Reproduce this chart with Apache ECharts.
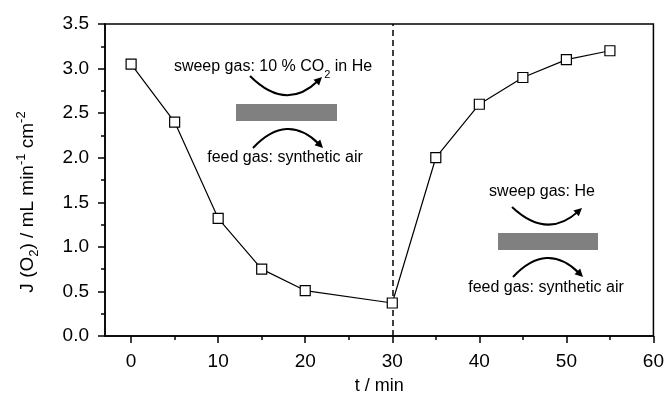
<!DOCTYPE html>
<html>
<head>
<meta charset="utf-8">
<script src="https://cdn.jsdelivr.net/npm/echarts@6/dist/echarts.min.js"></script>
<style>
html, body { margin: 0; padding: 0; background: #fff; }
#chart { width: 667px; height: 404px; }
</style>
</head>
<body>
<div id="chart"></div>
<script>
// data
const times = [0, 5, 10, 15, 20, 30, 35, 40, 45, 50, 55];
const flux = [3.05, 2.40, 1.32, 0.75, 0.51, 0.37, 2.00, 2.60, 2.90, 3.10, 3.20];
const switchTime = 30;
const xMajorTicks = [0, 10, 20, 30, 40, 50, 60];
const xMinorTicks = [5, 15, 25, 35, 45, 55];

const font = '"Liberation Sans", Arial, sans-serif';

// arrowhead polygon at (tx, ty) pointing along (dx, dy)
function arrowHead(tx, ty, dx, dy, len, half) {
    const n = Math.sqrt(dx * dx + dy * dy);
    const ux = dx / n, uy = dy / n;
    const bx = tx - ux * len, by = ty - uy * len;
    return [[tx, ty], [bx - uy * half, by + ux * half], [bx + uy * half, by - ux * half]];
}

// a curved arrow from (x1,y1) to (x2,y2) through control (cx,cy)
function curvedArrow(x1, y1, x2, y2, cx, cy) {
    const dx = x2 - cx, dy = y2 - cy;
    const n = Math.sqrt(dx * dx + dy * dy);
    return [
        {
            type: 'bezierCurve',
            shape: { x1: x1, y1: y1, x2: x2 - dx / n * 5, y2: y2 - dy / n * 5, cpx1: cx, cpy1: cy },
            style: { stroke: '#000', lineWidth: 2, fill: null }
        },
        {
            type: 'polygon',
            shape: { points: arrowHead(x2, y2, dx, dy, 8, 4) },
            style: { fill: '#000' }
        }
    ];
}

function label(x, y, text) {
    return {
        type: 'text',
        x: x,
        y: y,
        style: {
            text: text,
            font: '16px ' + font,
            fill: '#000',
            align: 'center',
            verticalAlign: 'middle',
            rich: {
                t: { fontSize: 16, fontFamily: font, lineHeight: 20 },
                sub: { fontSize: 11, fontFamily: font, verticalAlign: 'bottom', lineHeight: 20, padding: [0, 0, -3, 0] }
            }
        }
    };
}

let chart = echarts.init(document.getElementById('chart'));

let graphics = [].concat(
    // left panel: CO2 sweep
    [label(273, 67, '{t|sweep gas: 10 % CO}{sub|2}{t| in He}')],
    curvedArrow(250, 76, 322, 77, 286, 112),
    [{ type: 'rect', shape: { x: 236, y: 104, width: 101, height: 17 }, style: { fill: '#808080' } }],
    curvedArrow(253, 148, 323, 148, 287, 112),
    [label(285, 158, 'feed gas: synthetic air')],
    // right panel: He sweep
    [label(542, 192, 'sweep gas: He')],
    curvedArrow(512, 207, 582, 208, 547, 240),
    [{ type: 'rect', shape: { x: 498, y: 233, width: 100, height: 17 }, style: { fill: '#808080' } }],
    curvedArrow(513, 277, 583, 277, 547, 241),
    [label(546, 288, 'feed gas: synthetic air')]
);

let option = {
    backgroundColor: '#fff',
    animation: false,
    textStyle: { fontFamily: font },
    grid: {
        left: 105,
        right: 12,
        top: 24,
        bottom: 68,
        show: true,
        borderColor: '#000',
        borderWidth: 1.5,
        containLabel: false
    },
    xAxis: [
        {
            type: 'value',
            min: -3,
            max: 60,
            name: 't / min',
            nameLocation: 'middle',
            nameGap: 41,
            nameTextStyle: { fontSize: 18, color: '#000', fontFamily: font },
            axisLine: { show: true, onZero: false, lineStyle: { color: '#000', width: 1.5 } },
            axisTick: { show: true, length: 7, customValues: xMajorTicks, lineStyle: { color: '#000', width: 1.5 } },
            axisLabel: { customValues: xMajorTicks, color: '#000', fontSize: 19, margin: 16, fontFamily: font },
            splitLine: { show: false }
        },
        {
            type: 'value',
            min: -3,
            max: 60,
            position: 'bottom',
            axisLine: { show: false },
            axisTick: { show: true, length: 4, customValues: xMinorTicks, lineStyle: { color: '#000', width: 1.5 } },
            axisLabel: { show: false, customValues: xMinorTicks },
            splitLine: { show: false }
        }
    ],
    yAxis: {
        type: 'value',
        min: 0,
        max: 3.5,
        interval: 0.5,
        name: '{t|J (O}{sub|2}{t|) / mL min}{sup|-1}{t| cm}{sup|-2}',
        nameLocation: 'middle',
        nameRotate: 90,
        nameGap: 64,
        nameTextStyle: {
            color: '#000',
            padding: [0, 44, 0, 0],
            rich: {
                t: { fontSize: 19, fontFamily: font, color: '#000', lineHeight: 26 },
                sub: { fontSize: 13, fontFamily: font, color: '#000', verticalAlign: 'bottom', lineHeight: 26 },
                sup: { fontSize: 13, fontFamily: font, color: '#000', verticalAlign: 'top', lineHeight: 26 }
            }
        },
        axisLine: { show: true, onZero: false, lineStyle: { color: '#000', width: 1.5 } },
        axisTick: { show: true, length: 7, lineStyle: { color: '#000', width: 1.5 } },
        minorTick: { show: true, splitNumber: 2, length: 4, lineStyle: { color: '#000', width: 1.5 } },
        axisLabel: {
            color: '#000',
            fontSize: 19,
            margin: 16,
            fontFamily: font,
            formatter: function (v) { return v.toFixed(1); }
        },
        splitLine: { show: false }
    },
    series: [
        {
            type: 'line',
            data: times.map(function (t, i) { return [t, flux[i]]; }),
            symbol: 'rect',
            symbolSize: 10,
            showAllSymbol: true,
            itemStyle: { color: '#fff', borderColor: '#000', borderWidth: 1.2 },
            lineStyle: { color: '#000', width: 1.2 },
            markLine: {
                silent: true,
                symbol: ['none', 'none'],
                label: { show: false },
                lineStyle: { color: '#000', width: 1.5, type: [6, 4] },
                data: [{ xAxis: switchTime }]
            },
            z: 5
        }
    ],
    graphic: graphics
};

chart.setOption(option);
window.addEventListener('resize', function () {
    chart.resize();
});
</script>
</body>
</html>
